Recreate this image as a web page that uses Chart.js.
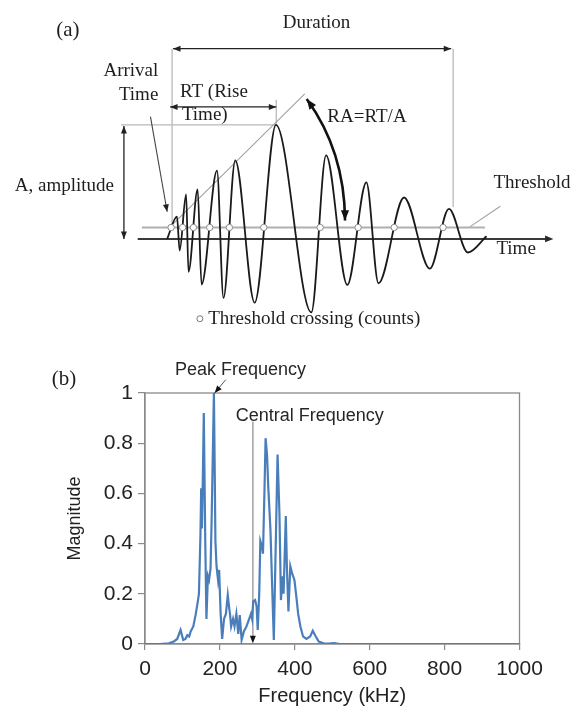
<!DOCTYPE html>
<html><head><meta charset="utf-8">
<script src="https://cdn.jsdelivr.net/npm/chart.js@4.4.0/dist/chart.umd.min.js"></script>
<style>
html,body{margin:0;padding:0;background:#fff;}
#wrap{position:relative;width:581px;height:707px;overflow:hidden;background:#fff;}
canvas{position:absolute;left:0;}
#ca{top:0}
#cb{top:340px}
</style></head><body>
<div id="wrap"><canvas id="ca" width="581" height="340"></canvas><canvas id="cb" width="581" height="367"></canvas></div>
<script>
// ---------- (a) AE waveform: extrema ----------
// time in arbitrary units (arrival = 0), amplitude normalised to the peak A = 1
const waveTime = [-0.5, 0.5, 0.77, 1.43, 1.67, 2.6, 3.0, 4.57, 5.23, 6.43, 8.4, 10.57, 14.17, 15.67, 17.83, 19.77, 21.0, 23.6, 26.23, 28.17, 30.1, 32.0];
const waveAmp  = [0, 0.196, -0.102, 0.391, -0.289, 0.434, -0.4, 0.598, -0.517, 0.689, -0.559, 1.0, -0.644, 0.732, -0.403, 0.496, -0.389, 0.363, -0.261, 0.264, -0.119, 0.023];
const crossingTimes = [-0.1, 1.07, 2.17, 3.83, 5.83, 9.33, 15.07, 18.93, 22.6, 27.57];
const thresholdLevel = 0.1;

// ---------- (b) frequency spectrum ----------
const freqKHz = [0, 40, 64, 77, 86, 95, 102, 108, 113, 118, 122, 129, 135, 140, 144, 148, 150, 152, 154, 157, 161, 164, 168, 171, 175, 178, 181, 184, 186, 188, 191, 195, 198, 202, 206, 211, 216, 221, 225, 227, 230, 235, 239, 244, 249, 253, 258, 264, 271, 277, 283, 286, 289, 294, 298, 301, 305, 308, 312, 315, 319, 322, 326, 329, 335, 339, 344, 349, 354, 359, 363, 367, 370, 376, 379, 383, 388, 393, 399, 404, 409, 415, 422, 431, 441, 448, 456, 464, 477, 490, 505, 520, 600, 800, 1000];
const magnitude = [0, 0, 0.003, 0.01, 0.02, 0.056, 0.016, 0.02, 0.035, 0.03, 0.05, 0.07, 0.115, 0.16, 0.2, 0.43, 0.62, 0.46, 0.62, 0.92, 0.4, 0.1, 0.27, 0.255, 0.3, 0.5, 0.75, 1.0, 0.72, 0.41, 0.31, 0.255, 0.295, 0.12, 0.02, 0.1, 0.12, 0.195, 0.14, 0.12, 0.07, 0.1, 0.07, 0.12, 0.04, 0.115, 0.016, 0.05, 0.07, 0.095, 0.12, 0.1, 0.17, 0.175, 0.15, 0.056, 0.2, 0.41, 0.39, 0.36, 0.61, 0.82, 0.75, 0.63, 0.455, 0.255, 0.016, 0.39, 0.755, 0.52, 0.175, 0.27, 0.2, 0.51, 0.3, 0.13, 0.31, 0.28, 0.255, 0.19, 0.12, 0.07, 0.03, 0.02, 0.03, 0.053, 0.03, 0.01, 0.003, 0.002, 0.004, 0, 0, 0, 0];
const xTicks = [0, 200, 400, 600, 800, 1000];
const yTicks = [0, 0.2, 0.4, 0.6, 0.8, 1];
const peakFreq = 184;
const centralFreq = 288;

const SERIF = '"Liberation Serif", "Times New Roman", serif';
const SANS = '"Liberation Sans", Arial, sans-serif';
const INK = '#1e1e1e';

function seg(ctx, x1, y1, x2, y2, color, w) {
  ctx.save(); ctx.strokeStyle = color; ctx.lineWidth = w; ctx.beginPath();
  ctx.moveTo(x1, y1); ctx.lineTo(x2, y2); ctx.stroke(); ctx.restore();
}
function head(ctx, fx, fy, tx, ty, size, color) {
  const a = Math.atan2(ty - fy, tx - fx);
  ctx.save(); ctx.fillStyle = color; ctx.beginPath();
  ctx.moveTo(tx, ty);
  ctx.lineTo(tx - size * Math.cos(a - 0.38), ty - size * Math.sin(a - 0.38));
  ctx.lineTo(tx - size * Math.cos(a + 0.38), ty - size * Math.sin(a + 0.38));
  ctx.closePath(); ctx.fill(); ctx.restore();
}
function txt(ctx, s, x, y, font, align, color) {
  ctx.save(); ctx.font = font; ctx.fillStyle = color || INK; ctx.textAlign = align || 'left';
  ctx.textBaseline = 'middle'; ctx.fillText(s, x, y); ctx.restore();
}

// ---------- annotations of (a) ----------
const annotA = {
  id: 'annotA',
  beforeDatasetsDraw(chart) {
    const {ctx, scales: {x, y}} = chart;
    const X = v => x.getPixelForValue(v), Y = v => y.getPixelForValue(v);
    const light = '#b9b9b9';
    seg(ctx, X(0), Y(1.668), X(0), Y(0.12), light, 1.3);
    seg(ctx, X(28.6), Y(1.668), X(28.6), Y(0.28), light, 1.3);
    seg(ctx, X(-5.2), Y(1.0), X(10.6), Y(1.0), light, 1.3);
    seg(ctx, X(10.6), Y(1.22), X(10.6), Y(1.0), light, 1.3);
    seg(ctx, X(-0.33), Y(0.094), X(13.5), Y(1.271), '#a0a0a0', 1.1);
    seg(ctx, X(-3.07), Y(thresholdLevel), X(31.83), Y(thresholdLevel), '#b0b0b0', 2);
    seg(ctx, X(30.33), Y(0.108), X(33.4), Y(0.287), '#a0a0a0', 1.1);
    seg(ctx, X(-3.5), Y(0), X(38.3), Y(0), '#3a3a3a', 2);
    head(ctx, X(30), Y(0), X(38.8), Y(0), 9, '#2a2a2a');
  },
  afterDatasetsDraw(chart) {
    const {ctx, scales: {x, y}} = chart;
    const X = v => x.getPixelForValue(v), Y = v => y.getPixelForValue(v);
    const dark = '#222';
    seg(ctx, X(0.1), Y(1.668), X(28.4), Y(1.668), dark, 1.3);
    head(ctx, X(5), Y(1.668), X(0.1), Y(1.668), 8, dark);
    head(ctx, X(20), Y(1.668), X(28.4), Y(1.668), 8, dark);
    seg(ctx, X(-0.2), Y(1.157), X(10.6), Y(1.157), dark, 1.3);
    head(ctx, X(5), Y(1.157), X(-0.2), Y(1.157), 8, dark);
    head(ctx, X(5), Y(1.157), X(10.6), Y(1.157), 8, dark);
    seg(ctx, X(-4.9), Y(0.99), X(-4.9), Y(0.0), dark, 1.3);
    head(ctx, X(-4.9), Y(0.5), X(-4.9), Y(0.99), 8, dark);
    head(ctx, X(-4.9), Y(0.5), X(-4.9), Y(0.0), 8, dark);
    seg(ctx, X(-2.2), Y(1.072), X(-0.5), Y(0.238), '#444', 1.1);
    head(ctx, X(-2.2), Y(1.072), X(-0.5), Y(0.238), 8, dark);
    const p0 = [X(13.7), Y(1.226)], c = [X(17.55), Y(0.77)], p2 = [X(17.6), Y(0.162)];
    ctx.save(); ctx.strokeStyle = '#111'; ctx.lineWidth = 2.6; ctx.beginPath();
    ctx.moveTo(p0[0], p0[1]); ctx.quadraticCurveTo(c[0], c[1], p2[0], p2[1]); ctx.stroke(); ctx.restore();
    head(ctx, c[0], c[1], p0[0], p0[1], 11, '#111');
    head(ctx, c[0], c[1], p2[0], p2[1], 11, '#111');
    const f19 = '19px ' + SERIF;
    txt(ctx, '(a)', X(-10.6), Y(1.83), '21px ' + SERIF, 'center');
    txt(ctx, 'Duration', X(14.7), Y(1.889), f19, 'center');
    txt(ctx, 'Arrival', X(-1.4), Y(1.472), f19, 'right');
    txt(ctx, 'Time', X(-1.4), Y(1.26), f19, 'right');
    txt(ctx, 'RT (Rise', X(0.8), Y(1.285), f19, 'left');
    txt(ctx, 'Time)', X(1.0), Y(1.089), f19, 'left');
    txt(ctx, 'RA=RT/A', X(15.8), Y(1.072), f19, 'left');
    txt(ctx, 'A, amplitude', X(-16.0), Y(0.46), f19, 'left');
    txt(ctx, 'Threshold', X(32.7), Y(0.494), f19, 'left');
    txt(ctx, 'Time', X(33.0), Y(-0.091), f19, 'left');
    ctx.save(); ctx.beginPath(); ctx.arc(X(2.83), Y(-0.7), 3, 0, Math.PI * 2);
    ctx.fillStyle = '#fff'; ctx.fill(); ctx.strokeStyle = '#777'; ctx.lineWidth = 1; ctx.stroke(); ctx.restore();
    txt(ctx, 'Threshold crossing (counts)', X(3.67), Y(-0.70), f19, 'left');
  }
};

new Chart(document.getElementById('ca'), {
  type: 'line',
  data: {
    datasets: [
      {
        type: 'scatter', order: 0,
        data: crossingTimes.map(t => ({x: t, y: thresholdLevel})),
        pointRadius: 3.2, pointBackgroundColor: '#ffffff', pointBorderColor: '#8a8a8a', pointBorderWidth: 1, showLine: false
      },
      {
        order: 1,
        data: waveTime.map((t, i) => ({x: t, y: waveAmp[i]})),
        borderColor: '#1a1a1a', borderWidth: 1.8, pointRadius: 0, fill: false,
        cubicInterpolationMode: 'monotone'
      }
    ]
  },
  options: {
    responsive: false, animation: false, events: [],
    layout: {padding: 0},
    plugins: {legend: {display: false}, tooltip: {enabled: false}},
    scales: {
      x: {type: 'linear', display: false, min: -17, max: 41.1},
      y: {type: 'linear', display: false, min: -0.8426, max: 2.0511}
    }
  },
  plugins: [annotA]
});

// ---------- annotations of (b) ----------
const annotB = {
  id: 'annotB',
  beforeDatasetsDraw(chart) {
    const {ctx, chartArea: ca} = chart;
    ctx.save(); ctx.strokeStyle = '#8a8a8a'; ctx.lineWidth = 1.3;
    ctx.strokeRect(ca.left, ca.top, ca.right - ca.left, ca.bottom - ca.top); ctx.restore();
    const {x, y} = chart.scales;
    seg(ctx, x.getPixelForValue(centralFreq), y.getPixelForValue(0.885), x.getPixelForValue(centralFreq), y.getPixelForValue(0.02), '#a8a8a8', 1.6);
  },
  afterDatasetsDraw(chart) {
    const {ctx, scales: {x, y}} = chart;
    const X = v => x.getPixelForValue(v), Y = v => y.getPixelForValue(v);
    head(ctx, X(centralFreq), Y(0.06), X(centralFreq), Y(0.003), 8, '#111');
    txt(ctx, 'Central Frequency', X(242), Y(0.909), '18px ' + SANS, 'left', '#262626');
    txt(ctx, 'Peak Frequency', X(255), Y(1.093), '18px ' + SANS, 'center', '#262626');
    seg(ctx, X(215.6), Y(1.053), X(peakFreq + 2), Y(1.0), '#555', 1);
    head(ctx, X(215.6), Y(1.053), X(peakFreq + 2), Y(1.0), 8, '#111');
    txt(ctx, '(b)', X(-216.6), Y(1.053), '21px ' + SERIF, 'center');
  }
};

new Chart(document.getElementById('cb'), {
  type: 'line',
  data: {
    datasets: [{
      data: freqKHz.map((f, i) => ({x: f, y: magnitude[i]})),
      borderColor: '#4a7ebb', borderWidth: 2.2, pointRadius: 0, tension: 0, fill: false
    }]
  },
  options: {
    responsive: false, animation: false, events: [],
    layout: {padding: {left: 62, top: 53, right: 61.5, bottom: 0}},
    plugins: {legend: {display: false}, tooltip: {enabled: false}},
    scales: {
      x: {
        type: 'linear', min: 0, max: 1000,
        afterBuildTicks: s => { s.ticks = xTicks.map(v => ({value: v})); },
        grid: {drawOnChartArea: false, drawTicks: true, tickLength: 6, color: '#8a8a8a', lineWidth: 1.2},
        border: {display: true, color: '#8a8a8a', width: 1.3},
        ticks: {font: {family: SANS, size: 21}, color: '#222', padding: 7, maxRotation: 0, autoSkip: false, callback: v => String(v)},
        title: {display: true, text: 'Frequency (kHz)', font: {family: SANS, size: 20}, color: '#222', padding: {top: 0, bottom: -1}},
        afterFit: s => { s.height = 63; }
      },
      y: {
        type: 'linear', min: 0, max: 1,
        afterBuildTicks: s => { s.ticks = yTicks.map(v => ({value: v})); },
        grid: {drawOnChartArea: false, drawTicks: true, tickLength: 7, color: '#8a8a8a', lineWidth: 1.2},
        border: {display: true, color: '#8a8a8a', width: 1.3},
        ticks: {font: {family: SANS, size: 21}, color: '#222', padding: 5, autoSkip: false, callback: v => String(v)},
        title: {display: true, text: 'Magnitude', font: {family: SANS, size: 18}, color: '#222', padding: {top: 2, bottom: 0}},
        afterFit: s => { s.width = 83; }
      }
    }
  },
  plugins: [annotB]
});
</script>
</body></html>
